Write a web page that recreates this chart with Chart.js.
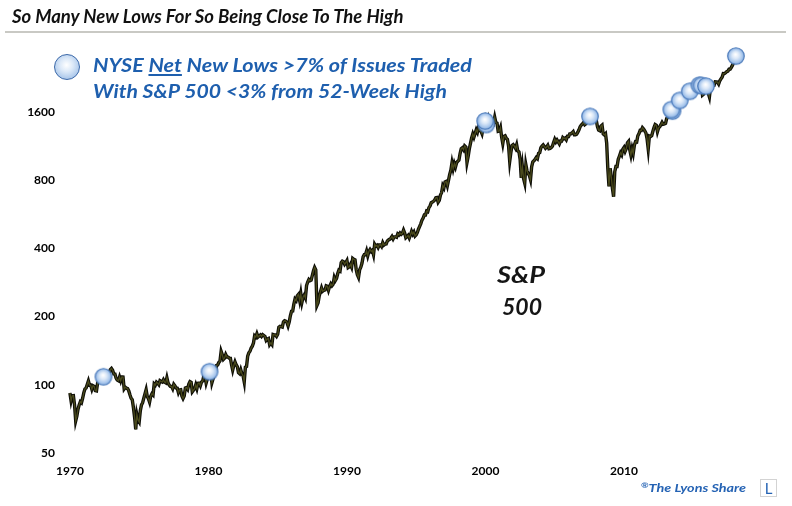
<!DOCTYPE html>
<html><head><meta charset="utf-8">
<script src="https://cdn.jsdelivr.net/npm/chart.js@4.4.0/dist/chart.umd.min.js"></script>
<style>
html,body{margin:0;padding:0;background:#fff;}
#wrap{position:relative;width:792px;height:506px;overflow:hidden;background:#fff;}
#c{position:absolute;left:0;top:0;}
.t{position:absolute;white-space:nowrap;line-height:1;font-family:Lato,'Open Sans',sans-serif;}
</style></head>
<body>
<div id="wrap">
<canvas id="c" width="792" height="506"></canvas>
<div class="t" id="title" style="left:12px;top:6.5px;font-size:18.5px;font-weight:700;font-style:italic;color:#111;">So Many New Lows For So Being Close To The High</div>
<div style="position:absolute;left:5px;top:31px;width:781px;height:1.5px;background:#c9c9c4;"></div>
<div style="position:absolute;left:54px;top:54px;width:24px;height:24px;border-radius:50%;border:1.5px solid #3b68a8;background:radial-gradient(circle at 48% 42%,#ffffff 0%,#dce9f8 35%,#a9c6ea 75%,#6e98d0 100%);"></div>
<div class="t" id="leg1" data-w="379" style="left:93px;top:55.6px;font-size:18.5px;font-weight:700;font-style:italic;color:#1e5fae;">NYSE <u style="text-decoration-thickness:1.5px;text-underline-offset:2px;">Net</u> New Lows &gt;7% of Issues Traded</div>
<div class="t" id="leg2" data-w="354" style="left:93px;top:82.1px;font-size:18.5px;font-weight:700;font-style:italic;color:#1e5fae;">With S&amp;P 500 &lt;3% from 52-Week High</div>
<div class="t" data-w="48" style="left:497px;top:263.5px;font-size:22px;font-weight:700;font-style:italic;color:#151515;">S&amp;P</div>
<div class="t" data-w="40" style="left:502px;top:295.5px;font-size:22px;font-weight:700;font-style:italic;color:#151515;">500</div>
<div class="t" id="cred" data-w="105" style="left:641px;top:482.2px;font-size:11px;font-weight:700;font-style:italic;color:#2563b4;"><span style="font-size:7px;vertical-align:4px;">®</span>The Lyons Share</div>
<div style="position:absolute;left:760px;top:479px;width:17px;height:18px;border:1px solid #d3d3d3;box-sizing:border-box;"></div>
<div class="t" style="left:760px;top:481px;width:17px;text-align:center;font-size:15px;color:#2563b4;">L</div>
</div>
<script>
// S&P 500 month-end values, first value = end of Dec 1969, one value per month after that
const startYear = 1970;
const spx = [
92.06,
85.02,89.50,89.63,81.52,69.30,72.72,78.05,81.52,84.21,83.25,87.20,92.15,
95.88,96.75,100.31,103.95,99.63,99.70,95.58,99.03,98.34,94.23,93.99,102.09,
103.94,106.57,107.20,107.67,109.53,107.14,107.39,111.09,110.55,111.58,116.67,118.05,
116.03,111.68,111.52,106.97,104.95,104.26,108.22,104.25,108.43,108.29,95.96,97.55,
96.57,96.22,93.98,90.31,87.28,86.00,79.31,72.15,63.54,73.90,69.97,68.56,
76.98,81.59,83.36,87.30,91.15,95.19,88.75,86.88,83.87,89.04,91.24,90.19,
100.86,99.71,102.77,101.64,100.18,104.28,103.44,102.91,105.24,102.90,102.10,107.46,
102.03,99.82,98.42,98.44,96.12,100.48,98.85,96.77,96.53,92.34,94.83,95.10,
89.25,87.04,89.21,96.83,97.24,95.53,100.68,103.29,102.54,93.15,94.70,96.11,
99.93,96.28,101.59,101.76,99.08,102.91,103.81,109.32,109.32,101.82,106.16,107.94,
114.16,113.66,102.09,106.29,111.24,114.24,121.67,122.38,125.46,127.47,140.52,135.76,
129.55,131.27,136.00,132.81,132.59,131.21,130.92,122.79,116.18,121.89,126.35,122.55,
120.40,113.11,111.96,116.44,111.88,109.61,103.00,119.51,120.42,133.71,138.54,140.64,
145.30,148.06,152.96,164.42,162.39,168.11,162.56,164.40,166.07,163.55,166.40,164.93,
163.41,157.06,159.18,160.05,150.55,153.18,150.66,166.68,166.10,166.09,163.58,167.24,
179.63,181.18,180.66,179.83,189.55,191.85,190.92,188.63,182.08,189.82,202.17,211.28,
211.78,226.92,238.90,235.52,247.35,250.84,236.12,252.93,231.32,243.98,249.22,242.17,
274.08,284.20,291.70,288.36,290.10,304.00,318.66,329.80,321.83,224.00,230.30,247.08,
257.07,267.82,258.89,261.33,262.16,273.50,272.02,261.52,271.91,278.97,273.70,277.72,
297.47,288.86,294.87,309.64,320.52,317.98,346.08,351.45,349.15,340.36,345.99,353.40,
329.08,331.89,339.94,330.80,361.23,358.02,356.15,322.56,306.05,298.00,322.22,330.22,
343.93,367.07,375.22,375.35,389.83,371.16,387.81,395.43,387.86,392.46,375.22,417.09,
408.79,412.70,403.69,414.95,415.35,408.14,424.21,414.03,417.80,418.68,431.35,435.71,
438.78,443.38,451.67,440.19,450.19,450.53,448.13,463.56,458.93,467.83,461.79,466.45,
481.61,467.14,445.77,450.91,456.50,444.27,458.26,475.49,462.69,472.35,453.69,459.27,
470.42,487.39,500.71,514.71,533.40,544.75,562.06,561.88,584.41,581.50,605.37,615.93,
636.02,640.43,645.50,654.17,669.12,670.63,639.95,651.99,687.31,705.27,757.02,740.74,
786.16,790.82,757.12,801.34,848.28,885.14,954.29,899.47,947.28,914.62,955.40,970.43,
980.28,1049.34,1101.75,1111.75,1090.82,1133.84,1120.67,957.28,1017.01,1098.67,1163.63,1229.23,
1279.64,1238.33,1286.37,1335.18,1301.84,1372.71,1328.72,1320.41,1282.71,1362.93,1388.91,1469.25,
1394.46,1366.42,1498.58,1452.43,1420.60,1454.60,1430.83,1517.68,1436.51,1429.40,1314.95,1320.28,
1366.01,1239.94,1160.33,1249.46,1255.82,1224.38,1211.23,1133.58,970.00,1059.78,1139.45,1148.08,
1130.20,1106.73,1147.39,1076.92,1067.14,989.82,820.00,916.07,815.28,777.00,936.31,879.82,
855.70,841.15,805.00,916.92,963.59,974.50,990.31,1008.01,995.97,1050.71,1058.20,1111.92,
1131.13,1144.94,1126.21,1107.30,1120.68,1140.84,1101.72,1104.24,1114.58,1130.20,1173.82,1211.92,
1181.27,1203.60,1180.59,1156.85,1191.50,1191.33,1234.18,1220.33,1228.81,1207.01,1249.48,1248.29,
1280.08,1280.66,1294.83,1310.61,1270.09,1270.20,1276.66,1303.82,1335.85,1377.94,1400.63,1418.30,
1438.24,1406.82,1420.86,1482.37,1530.62,1503.35,1455.27,1473.99,1526.75,1549.38,1481.14,1468.36,
1378.55,1330.63,1322.70,1385.59,1400.38,1280.00,1267.38,1282.83,1166.36,899.00,752.00,903.25,
825.88,735.09,676.50,872.81,919.14,919.32,987.48,1020.62,1057.08,1036.19,1095.63,1115.10,
1073.87,1104.49,1169.43,1186.69,1089.41,1030.71,1101.60,1049.33,1141.20,1183.26,1180.55,1257.64,
1286.12,1327.22,1325.83,1363.61,1345.20,1320.64,1292.28,1218.89,1099.00,1253.30,1246.96,1257.60,
1312.41,1365.68,1408.47,1397.91,1310.33,1362.16,1379.32,1406.58,1440.67,1412.16,1416.18,1426.19,
1498.11,1514.68,1569.19,1597.57,1630.74,1606.28,1685.73,1632.97,1681.55,1756.54,1805.81,1848.36,
1782.59,1859.45,1872.34,1883.95,1923.57,1960.23,1930.67,2003.37,1972.29,2018.05,2067.56,2058.90,
1994.99,2104.50,2067.89,2085.51,2107.39,2063.11,2103.84,1900.00,1920.03,2079.36,2080.41,2043.94,
1940.24,1864.00,2059.74,2065.30,2096.95,2098.86,2173.60,2170.95,2168.27,2126.15,2198.81,2238.83,
2278.87,2363.64,2362.72,2384.20,2411.80,2423.41,2470.30,2471.65,2519.36,2575.26,2647.58,2673.61,
2823.81
];
// Signal dates (decimal years) and S&P levels at the signals
const signalYears  = [1972.42, 1980.08, 2000.06, 1999.98, 2007.55, 2013.50, 2013.42, 2014.03, 2014.75, 2015.45, 2015.60, 2015.92, 2018.08];
const signalValues = [108.5,   114.2,   1410,    1460,    1530,    1615,    1640,    1800,    1975,    2100,    2095,    2080,    2823.81];
const yTicks = [50, 100, 200, 400, 800, 1600];
const xTicks = [1970, 1980, 1990, 2000, 2010];

const linePts = spx.map((v, i) => ({x: startYear + i / 12, y: v}));
const sigPts = signalYears.map((x, i) => ({x: x, y: signalValues[i]}));

function sphere(r) {
  const s = Math.ceil(r * 2 + 3);
  const c = document.createElement('canvas'); c.width = s; c.height = s;
  const g = c.getContext('2d'); const cx = s / 2, cy = s / 2;
  const gr = g.createRadialGradient(cx - r * 0.05, cy - r * 0.2, r * 0.05, cx, cy, r);
  gr.addColorStop(0, '#ffffff'); gr.addColorStop(0.4, '#dbe8f8');
  gr.addColorStop(0.8, '#a6c5ec'); gr.addColorStop(1, '#7aa3d8');
  g.beginPath(); g.arc(cx, cy, r, 0, Math.PI * 2); g.fillStyle = gr; g.fill();
  g.lineWidth = 1.1; g.strokeStyle = '#4676b8'; g.stroke();
  return c;
}
const dot = sphere(8.3);

const tickFont = {family: "'Liberation Sans Narrow', Lato, sans-serif", size: 12, weight: 'bold'};

new Chart(document.getElementById('c'), {
  type: 'line',
  data: {
    datasets: [
      {label: 'signals', data: sigPts, showLine: false, pointStyle: dot, pointRadius: 8, order: 0, clip: false},
      {label: 'S&P 500 core', data: linePts, borderColor: '#4a4a1c', borderWidth: 1.3, pointRadius: 0, tension: 0, order: 1},
      {label: 'S&P 500', data: linePts, borderColor: '#0e0e06', borderWidth: 3.4, pointRadius: 0, tension: 0, order: 2}
    ]
  },
  options: {
    responsive: false, animation: false, events: [],
    layout: {padding: {left: 23, right: 43.35, top: 43.8, bottom: 27}},
    plugins: {legend: {display: false}, tooltip: {enabled: false}, title: {display: false}},
    scales: {
      x: {
        type: 'linear', min: 1969.5, max: 2019,
        grid: {display: false, drawTicks: false}, border: {display: false},
        afterBuildTicks: s => { s.ticks = xTicks.map(v => ({value: v})); },
        afterFit: s => { s.height = 26; },
        ticks: {color: '#000', font: tickFont, padding: 11, maxRotation: 0, autoSkip: false, callback: v => String(v)}
      },
      y: {
        type: 'logarithmic', min: 50, max: 3200,
        grid: {display: false, drawTicks: false}, border: {display: false},
        afterBuildTicks: s => { s.ticks = yTicks.map(v => ({value: v})); },
        afterFit: s => { s.width = 40; },
        ticks: {color: '#000', font: tickFont, padding: 8, autoSkip: false, callback: v => String(v)}
      }
    }
  }
});

function fit() {
  document.querySelectorAll('[data-w]').forEach(el => {
    el.style.transform = 'none';
    const w = el.getBoundingClientRect().width;
    el.style.transformOrigin = '0 0';
    el.style.transform = 'scaleX(' + (parseFloat(el.dataset.w) / w) + ')';
  });
}
fit();
if (document.fonts && document.fonts.ready) document.fonts.ready.then(fit);
</script>
</body></html>
